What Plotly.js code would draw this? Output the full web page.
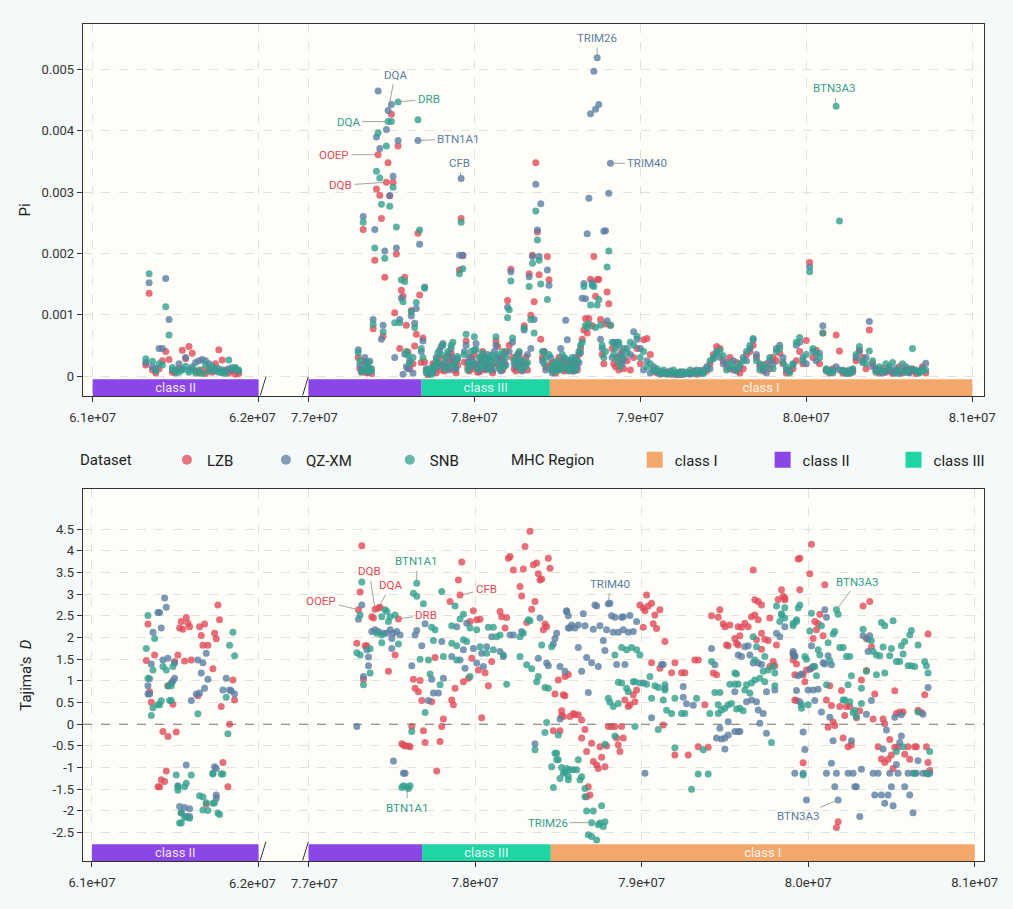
<!DOCTYPE html>
<html>
<head>
<meta charset="utf-8">
<script src="https://cdn.plot.ly/plotly-3.0.1.min.js"></script>
<style>
  html, body { margin: 0; padding: 0; background: #f5f9f9; }
  #chart { width: 1013px; height: 909px; }
</style>
</head>
<body>
<div id="chart"></div>
<script>
// ---- data -------------------------------------------------------------
var datasets = ['LZB', 'QZ-XM', 'SNB'];

// nucleotide diversity windows (Mb)
var piPos = [
  61.32,61.34,61.36,61.38,61.40,61.42,61.44,61.46,61.48,61.50,
  61.52,61.54,61.56,61.58,61.60,61.62,61.64,61.66,61.68,61.70,
  61.72,61.74,61.76,61.78,61.80,61.82,61.84,61.86,61.88,
  77.30,77.31,77.32,77.33,77.34,77.35,77.36,77.37,77.38,77.39,
  77.40,77.41,77.42,77.43,77.44,77.45,77.46,77.47,77.48,77.49,
  77.50,77.51,77.52,77.53,77.54,77.55,77.56,77.57,77.58,77.59,
  77.60,77.61,77.62,77.63,77.64,77.65,77.66,77.67,77.68,77.69,
  77.70,77.71,77.72,77.73,77.74,77.75,77.76,77.77,77.78,77.79,
  77.80,77.81,77.82,77.83,77.84,77.85,77.86,77.87,77.88,77.89,
  77.90,77.91,77.92,77.93,77.94,77.95,77.96,77.97,77.98,77.99,
  78.00,78.01,78.02,78.03,78.04,78.05,78.06,78.07,78.08,78.09,
  78.10,78.11,78.12,78.13,78.14,78.15,78.16,78.17,78.18,78.19,
  78.20,78.21,78.22,78.23,78.24,78.25,78.26,78.27,78.28,78.29,
  78.30,78.31,78.32,78.33,78.34,78.35,78.36,78.37,78.38,78.39,
  78.40,78.41,78.42,78.43,78.44,78.45,78.46,78.47,78.48,78.49,
  78.50,78.51,78.52,78.53,78.54,78.55,78.56,78.57,78.58,78.59,
  78.60,78.61,78.62,78.63,78.64,78.65,78.66,78.67,78.68,78.69,
  78.70,78.71,78.72,78.73,78.74,78.75,78.76,78.77,78.78,78.79,
  78.80,78.81,78.82,78.83,78.84,78.85,78.86,78.87,78.88,78.89,
  78.90,
  78.92,78.94,78.96,78.98,79.00,79.02,79.04,79.06,79.08,79.10,
  79.12,79.14,79.16,79.18,79.20,79.22,79.24,79.26,79.28,79.30,
  79.32,79.34,79.36,79.38,79.40,79.42,79.44,79.46,79.48,79.50,
  79.52,79.54,79.56,79.58,79.60,79.62,79.64,79.66,79.68,79.70,
  79.72,79.74,79.76,79.78,79.80,79.82,79.84,79.86,79.88,79.90,
  79.92,79.94,79.96,79.98,80.00,80.02,80.04,80.06,80.08,80.10,
  80.12,80.14,80.16,80.18,80.20,80.22,80.24,80.26,80.28,80.30,
  80.32,80.34,80.36,80.38,80.40,80.42,80.44,80.46,80.48,80.50,
  80.52,80.54,80.56,80.58,80.60,80.62,80.64,80.66,80.68,80.70,
  80.72
];

var piLZB = [
  .00018,.00135,.00010,.00005,.00012,.00025,.00040,.00027,.00006,.00008,
  .00012,.00042,.00028,.00048,.00037,.00008,.00005,.00010,.00004,.00012,
  .00006,.00020,.00043,.00026,.00010,.00005,.00008,.00003,.00004,
  .00030,.00012,.00006,.00239,.00024,.00005,.00012,.00010,.00004,.00077,
  .00189,.00305,.00361,.00295,.00257,.00065,.00161,.00316,.00348,.00294,
  .00427,.00316,.00103,.00199,.00375,.00045,.00140,.00130,.00161,.00083,
  .00039,.00012,.00107,.00020,.00049,.00068,.00233,.00132,.00022,.00062,
  .00023,.00008,.00002,.00006,.00010,.00020,.00012,.00005,.00022,.00030,
  .00010,.00018,.00008,.00030,.00012,.00022,.00037,.00026,.00010,.00005,
  .00018,.00173,.00257,.00196,.00023,.00057,.00015,.00008,.00030,.00012,
  .00035,.00020,.00006,.00007,.00025,.00040,.00010,.00022,.00015,.00030,
  .00012,.00005,.00020,.00057,.00048,.00015,.00030,.00010,.00022,.00040,
  .00123,.00050,.00174,.00030,.00012,.00008,.00020,.00037,.00010,.00018,
  .00082,.00030,.00010,.00167,.00099,.00197,.00121,.00348,.00235,.00165,
  .00060,.00030,.00040,.00015,.00195,.00157,.00020,.00010,.00022,.00005,
  .00018,.00030,.00012,.00025,.00008,.00020,.00010,.00015,.00025,.00008,
  .00012,.00020,.00010,.00035,.00045,.00060,.00075,.00094,.00070,.00094,
  .00158,.00082,.00195,.00130,.00157,.00158,.00092,.00035,.00020,.00085,
  .00137,.00118,.00083,.00045,.00020,.00015,.00030,.00010,.00022,.00040,
  .00012,
  .00025,.00010,.00030,.00045,.00020,.00059,.00061,.00035,.00010,.00005,
  .00008,.00004,.00006,.00003,.00005,.00002,.00006,.00003,.00005,.00004,
  .00008,.00003,.00006,.00010,.00008,.00020,.00035,.00048,.00045,.00025,
  .00015,.00030,.00010,.00022,.00005,.00012,.00035,.00040,.00050,.00030,
  .00015,.00008,.00020,.00012,.00030,.00025,.00037,.00020,.00005,.00010,
  .00012,.00025,.00040,.00020,.00058,.00185,.00030,.00042,.00020,.00070,
  .00010,.00005,.00012,.00067,.00041,.00005,.00008,.00004,.00010,.00025,
  .00042,.00030,.00012,.00075,.00020,.00008,.00005,.00012,.00006,.00010,
  .00004,.00008,.00015,.00005,.00010,.00006,.00012,.00004,.00008,.00015,
  .00005
];

var piQZ = [
  .00022,.00152,.00015,.00012,.00045,.00045,.00159,.00092,.00010,.00005,
  .00020,.00012,.00030,.00010,.00015,.00022,.00025,.00027,.00025,.00020,
  .00010,.00008,.00012,.00005,.00008,.00012,.00010,.00014,.00008,
  .00043,.00018,.00010,.00260,.00030,.00020,.00006,.00024,.00012,.00092,
  .00239,.00390,.00465,.00371,.00060,.00083,.00204,.00402,.00433,.00294,
  .00443,.00326,.00030,.00209,.00384,.00092,.00127,.00003,.00036,.00015,
  .00012,.00025,.00098,.00005,.00086,.00110,.00384,.00215,.00040,.00057,
  .00145,.00012,.00006,.00004,.00008,.00005,.00018,.00030,.00015,.00042,
  .00048,.00053,.00022,.00015,.00035,.00010,.00045,.00030,.00020,.00012,
  .00028,.00197,.00322,.00197,.00040,.00050,.00022,.00030,.00015,.00025,
  .00043,.00053,.00018,.00010,.00032,.00028,.00020,.00012,.00035,.00018,
  .00026,.00010,.00040,.00050,.00030,.00022,.00008,.00025,.00035,.00018,
  .00112,.00040,.00170,.00055,.00020,.00015,.00035,.00029,.00022,.00008,
  .00075,.00020,.00035,.00162,.00045,.00195,.00092,.00313,.00238,.00195,
  .00281,.00025,.00040,.00010,.00173,.00148,.00030,.00005,.00012,.00020,
  .00010,.00015,.00045,.00018,.00030,.00091,.00059,.00025,.00012,.00020,
  .00008,.00030,.00015,.00022,.00038,.00127,.00151,.00126,.00232,.00290,
  .00428,.00152,.00497,.00435,.00519,.00443,.00060,.00045,.00236,.00237,
  .00090,.00298,.00347,.00030,.00055,.00052,.00055,.00050,.00035,.00020,
  .00028,
  .00045,.00035,.00072,.00060,.00045,.00010,.00025,.00005,.00015,.00008,
  .00003,.00006,.00004,.00008,.00003,.00005,.00002,.00007,.00004,.00003,
  .00005,.00010,.00004,.00006,.00015,.00012,.00028,.00040,.00030,.00020,
  .00022,.00012,.00025,.00008,.00015,.00030,.00025,.00045,.00059,.00035,
  .00020,.00012,.00005,.00025,.00020,.00045,.00050,.00030,.00010,.00008,
  .00020,.00050,.00055,.00030,.00020,.00178,.00040,.00025,.00037,.00082,
  .00008,.00010,.00005,.00015,.00010,.00008,.00004,.00010,.00006,.00030,
  .00040,.00022,.00030,.00089,.00015,.00012,.00010,.00005,.00008,.00015,
  .00006,.00012,.00004,.00008,.00015,.00005,.00010,.00008,.00006,.00012,
  .00021
];

var piSNB = [
  .00028,.00167,.00024,.00008,.00020,.00018,.00113,.00067,.00014,.00010,
  .00006,.00010,.00016,.00006,.00012,.00005,.00010,.00004,.00018,.00008,
  .00016,.00012,.00006,.00010,.00004,.00026,.00014,.00012,.00010,
  .00038,.00025,.00007,.00251,.00014,.00010,.00022,.00012,.00008,.00084,
  .00209,.00334,.00397,.00323,.00280,.00072,.00192,.00375,.00415,.00277,
  .00415,.00308,.00087,.00243,.00447,.00087,.00157,.00121,.00154,.00040,
  .00034,.00021,.00105,.00030,.00079,.00120,.00418,.00238,.00045,.00030,
  .00143,.00005,.00010,.00012,.00003,.00008,.00015,.00025,.00038,.00020,
  .00035,.00050,.00012,.00028,.00040,.00018,.00050,.00055,.00015,.00025,
  .00032,.00167,.00251,.00175,.00035,.00068,.00010,.00018,.00040,.00022,
  .00064,.00043,.00012,.00030,.00020,.00037,.00015,.00030,.00025,.00010,
  .00034,.00018,.00028,.00064,.00035,.00012,.00020,.00040,.00015,.00030,
  .00095,.00108,.00155,.00062,.00025,.00030,.00018,.00040,.00012,.00025,
  .00078,.00015,.00022,.00146,.00092,.00184,.00070,.00269,.00222,.00189,
  .00150,.00040,.00020,.00030,.00125,.00035,.00012,.00018,.00008,.00015,
  .00025,.00010,.00020,.00035,.00012,.00028,.00015,.00008,.00020,.00030,
  .00015,.00010,.00025,.00040,.00050,.00055,.00146,.00083,.00079,.00085,
  .00116,.00148,.00146,.00079,.00116,.00125,.00083,.00050,.00030,.00040,
  .00178,.00204,.00083,.00055,.00035,.00045,.00025,.00055,.00015,.00030,
  .00045,
  .00038,.00055,.00050,.00065,.00030,.00040,.00015,.00020,.00008,.00012,
  .00005,.00010,.00003,.00005,.00010,.00004,.00007,.00003,.00006,.00010,
  .00004,.00006,.00009,.00004,.00012,.00025,.00030,.00037,.00042,.00033,
  .00010,.00020,.00015,.00012,.00020,.00025,.00040,.00050,.00061,.00025,
  .00010,.00018,.00015,.00030,.00012,.00040,.00045,.00022,.00015,.00005,
  .00018,.00055,.00063,.00025,.00035,.00170,.00045,.00037,.00030,.00070,
  .00012,.00006,.00008,.00440,.00253,.00010,.00006,.00005,.00012,.00035,
  .00048,.00025,.00020,.00041,.00025,.00006,.00015,.00008,.00020,.00012,
  .00022,.00005,.00010,.00020,.00006,.00012,.00045,.00010,.00005,.00008,
  .00010
];

// Tajima's D windows (Mb) and values
var tdPosLZB = [
  61.326,61.336,61.346,61.356,61.376,61.396,61.406,61.416,61.426,61.436,
  61.446,61.456,61.456,61.486,61.496,61.506,61.516,61.526,61.536,61.546,
  61.556,61.566,61.576,61.586,61.596,61.636,61.646,61.656,61.666,61.676,
  61.686,61.696,61.726,61.736,61.746,61.756,61.766,61.776,61.786,61.816,
  61.826,61.846,61.856,
  77.29,77.30,77.31,77.32,77.33,77.34,77.35,77.38,77.39,77.40,
  77.42,77.43,77.48,77.52,77.54,77.56,77.57,77.58,77.60,77.61,
  77.62,77.63,77.64,77.66,77.67,77.68,77.69,77.70,77.74,77.76,
  77.77,77.79,77.80,77.81,77.85,77.86,77.87,77.88,77.90,77.91,
  77.92,77.93,77.96,77.97,77.98,77.99,78.01,78.02,78.03,78.04,
  78.06,78.08,78.10,78.15,78.16,78.18,78.19,78.20,78.21,78.23,
  78.27,78.28,78.29,78.30,78.31,78.33,78.34,78.35,78.36,78.37,
  78.38,78.39,78.40,78.41,78.42,78.43,78.44,78.45,78.47,78.48,
  78.50,78.51,78.52,78.53,78.54,78.52,78.53,78.54,78.56,78.57,
  78.59,78.60,78.62,78.64,78.64,78.66,78.67,78.67,78.68,78.69,
  78.70,78.71,78.73,78.74,78.75,78.76,78.78,78.79,78.80,78.82,
  78.84,78.85,78.86,78.87,78.88,78.89,78.90,78.92,78.93,78.95,
  78.96,78.97,78.99,79.01,79.01,79.02,79.03,79.04,79.06,79.06,
  79.07,79.08,79.09,79.11,79.11,79.13,79.14,79.18,79.20,79.20,
  79.24,79.26,79.28,79.32,79.34,79.34,79.38,79.40,79.42,79.43,
  79.45,79.46,79.47,79.49,79.50,79.51,79.52,79.53,79.56,79.57,
  79.58,79.58,79.59,79.60,79.62,79.64,79.66,79.67,79.68,79.68,
  79.69,79.70,79.70,79.72,79.72,79.72,79.74,79.76,79.77,79.77,
  79.79,79.80,79.81,79.82,79.84,79.85,79.86,79.86,79.91,79.91,
  79.92,79.92,79.93,79.93,79.94,79.95,79.95,79.97,79.97,79.98,
  79.99,80.01,80.02,80.02,80.03,80.04,80.05,80.06,80.07,80.09,
  80.10,80.11,80.12,80.13,80.14,80.15,80.16,80.17,80.18,80.19,
  80.20,80.21,80.22,80.23,80.24,80.25,80.26,80.29,80.31,80.32,
  80.33,80.35,80.35,80.37,80.38,80.39,80.40,80.42,80.44,80.45,
  80.46,80.46,80.48,80.49,80.50,80.51,80.52,80.52,80.53,80.54,
  80.55,80.57,80.58,80.60,80.61,80.64,80.65,80.66,80.68,80.70,
  80.71,80.72,80.72,80.73
];
var tdLZB = [
  1.47,2.31,0.75,0.51,1.60,-1.44,-1.44,-1.28,-0.17,-1.32,
  -1.08,0.89,-0.28,0.46,1.45,-0.18,1.60,2.22,2.37,2.19,
  1.46,2.46,2.33,2.25,1.48,0.66,2.25,2.05,1.82,2.31,
  -1.84,1.82,1.28,2.10,1.97,2.75,2.41,0.41,-0.88,-1.44,
  0.00,1.02,0.56,
  1.87,2.64,3.05,4.12,1.04,1.81,1.81,2.48,2.45,2.65,
  2.68,2.70,1.22,1.60,2.43,-0.45,-0.48,-0.50,-0.50,-0.52,
  -0.05,1.04,0.83,0.75,1.01,0.55,-0.15,-0.42,0.52,1.54,
  -1.08,-0.40,-0.05,0.12,2.83,0.56,0.45,0.83,3.33,2.98,
  3.74,0.98,1.06,2.37,1.52,2.62,2.41,1.25,2.42,0.15,
  1.19,0.89,1.45,2.60,2.48,2.22,2.46,3.83,3.87,3.56,
  3.18,2.96,3.58,4.10,2.35,4.45,2.65,3.68,2.83,3.72,
  3.47,3.33,3.35,2.18,2.31,2.25,3.83,3.60,-0.15,0.70,
  1.02,-0.15,0.31,0.18,0.66,0.20,0.68,1.10,1.15,0.18,
  0.25,0.22,0.22,0.10,-0.32,-0.12,-0.63,-1.67,-1.44,-1.63,
  -0.44,-0.86,-0.94,-1.02,-0.52,-0.76,-0.98,-0.50,-0.05,-0.05,
  -0.05,-0.32,-0.48,-0.63,-0.05,-0.32,0.56,0.41,0.45,0.68,
  0.52,0.79,2.75,2.68,2.24,2.62,2.98,2.73,2.79,1.42,
  2.32,2.52,2.21,2.64,1.29,-0.02,1.91,1.19,1.42,-0.71,
  1.19,1.19,-0.71,1.48,1.48,-0.52,0.45,-0.53,2.50,1.18,
  1.14,2.47,2.64,2.32,2.25,1.83,1.81,2.29,1.98,1.87,
  2.25,1.83,2.04,2.24,2.33,2.25,2.48,3.56,2.52,2.87,
  1.95,2.41,2.83,2.10,1.73,2.75,1.96,1.93,2.45,1.33,
  1.45,1.35,1.83,2.88,3.10,2.95,2.87,2.91,1.48,1.60,
  1.14,0.56,0.55,1.39,3.81,3.10,3.83,1.14,-0.89,0.98,
  1.25,3.47,4.15,1.29,1.98,2.37,2.18,2.32,2.54,2.04,
  3.22,0.56,-0.07,0.89,0.43,0.05,-0.03,-2.38,-2.25,0.41,
  0.78,-0.32,0.20,0.41,-0.52,0.41,-0.48,0.15,0.31,1.02,
  2.73,1.98,1.24,2.83,1.79,0.12,0.70,-0.52,-0.80,0.12,
  -0.88,0.01,-0.81,-0.35,-0.71,-1.02,0.77,-0.53,0.25,-0.52,
  0.28,0.28,-0.69,-0.52,-0.81,-0.52,-0.52,0.32,0.27,0.68,
  -0.52,2.08,-0.88,-1.07
];

var tdPosQZ = [
  61.336,61.336,61.346,61.346,61.356,61.366,61.396,61.406,61.416,61.426,
  61.436,61.446,61.456,61.476,61.486,61.496,61.496,61.516,61.526,61.536,
  61.556,61.566,61.566,61.586,61.586,61.596,61.626,61.636,61.646,61.656,
  61.666,61.676,61.686,61.696,61.726,61.736,61.746,61.746,61.746,61.786,
  61.806,61.826,61.836,61.856,
  77.29,77.30,77.32,77.33,77.35,77.36,77.36,77.38,77.40,77.42,
  77.45,77.47,77.49,77.50,77.50,77.51,77.51,77.53,77.55,77.57,
  77.58,77.62,77.64,77.65,77.68,77.70,77.72,77.74,77.75,77.78,
  77.80,77.81,77.86,77.89,77.91,77.93,77.94,77.95,77.99,78.01,
  78.04,78.05,78.07,78.10,78.15,78.17,78.21,78.23,78.28,78.36,
  78.38,78.39,78.43,78.44,78.47,78.48,78.49,78.51,78.51,78.54,
  78.55,78.55,78.56,78.56,78.57,78.58,78.60,78.62,78.62,78.64,
  78.65,78.66,78.67,78.68,78.70,78.71,78.72,78.73,78.74,78.75,
  78.77,78.78,78.79,78.80,78.81,78.82,78.83,78.84,78.85,78.86,
  78.88,78.89,78.89,78.90,78.92,78.93,78.95,78.97,79.01,79.02,
  79.06,79.12,79.13,79.14,79.25,79.25,79.27,79.31,79.42,79.44,
  79.45,79.47,79.48,79.50,79.50,79.52,79.52,79.56,79.56,79.58,
  79.58,79.59,79.60,79.62,79.63,79.64,79.65,79.66,79.67,79.69,
  79.70,79.70,79.71,79.72,79.73,79.75,79.75,79.80,79.81,79.83,
  79.86,79.91,79.91,79.92,79.92,79.92,79.93,79.94,79.95,79.96,
  79.97,79.97,79.98,79.99,80.00,80.01,80.02,80.03,80.03,80.04,
  80.06,80.08,80.09,80.10,80.10,80.11,80.11,80.12,80.13,80.14,
  80.14,80.15,80.16,80.17,80.18,80.24,80.26,80.27,80.28,80.29,
  80.31,80.32,80.33,80.35,80.36,80.36,80.37,80.38,80.39,80.40,
  80.42,80.44,80.45,80.46,80.47,80.48,80.49,80.50,80.51,80.52,
  80.53,80.54,80.55,80.56,80.56,80.58,80.60,80.61,80.63,80.63,
  80.65,80.66,80.69,80.69,80.71,80.72,80.73
];
var tdQZ = [
  0.89,0.70,1.05,0.70,1.39,2.12,2.58,2.58,2.22,1.48,
  2.91,2.70,1.52,0.95,1.00,1.06,1.41,-1.42,-1.90,-2.05,
  -1.92,-0.94,-2.13,-1.95,-2.13,0.55,0.70,1.48,0.72,1.18,
  1.42,0.83,1.64,1.04,-1.13,-0.98,-1.02,-1.63,-1.71,0.79,
  1.06,0.79,0.77,0.70,
  -0.05,2.42,2.75,1.10,1.72,1.55,1.35,2.14,2.18,2.14,
  2.10,2.10,2.18,1.98,1.75,2.10,-0.85,2.14,2.06,-1.13,
  -1.13,1.35,2.06,2.16,1.81,2.32,0.55,1.04,0.72,0.72,
  1.91,1.06,1.56,2.25,1.48,1.72,1.29,2.33,1.75,1.41,
  1.64,1.33,1.79,2.02,1.68,1.56,2.06,2.06,2.14,-0.45,
  1.52,2.45,1.41,1.35,1.85,1.98,2.10,0.12,1.33,1.22,
  2.60,2.62,2.22,2.50,2.22,2.29,2.22,2.29,1.77,1.22,
  2.55,2.27,1.54,0.73,1.42,2.19,2.75,2.73,1.33,2.27,
  1.93,1.70,2.18,2.78,2.79,2.50,2.12,2.47,1.38,2.12,
  2.47,2.48,2.18,1.38,2.12,2.51,2.14,2.37,0.95,-1.13,
  0.15,1.38,1.38,0.83,0.87,0.62,0.47,0.44,1.75,1.37,
  -0.32,-0.09,-0.34,-0.32,-0.57,0.06,-0.25,-0.17,0.75,-0.17,
  1.60,-0.17,1.56,1.79,0.52,1.81,1.60,0.56,1.41,0.52,
  1.41,0.33,0.02,1.38,0.25,-0.21,0.75,0.79,2.10,2.02,
  2.25,1.64,1.68,1.56,1.58,-1.13,0.78,1.12,0.52,1.16,
  -1.13,-0.18,-0.58,-1.75,0.79,1.27,1.81,1.33,0.79,0.55,
  0.81,0.28,1.42,2.64,1.39,2.47,-1.13,1.58,0.16,1.37,
  -0.90,-0.38,-1.44,-1.13,-1.75,-1.13,-0.38,-1.13,-1.44,-1.44,
  -2.13,-1.04,2.04,0.23,1.96,1.68,2.04,0.55,-1.13,-1.63,
  -1.13,-1.63,-0.57,-1.82,-0.13,-1.63,-1.13,-1.44,-1.88,0.16,
  -0.93,-1.13,-0.42,0.22,-0.27,-1.44,-1.13,-1.63,-1.13,-2.04,
  -1.13,-0.84,0.23,-1.13,-1.13,0.85,-1.13
];

var tdPosSNB = [
  61.326,61.336,61.336,61.356,61.366,61.366,61.376,61.396,61.406,61.416,
  61.426,61.446,61.456,61.466,61.476,61.476,61.486,61.506,61.516,61.516,
  61.526,61.536,61.536,61.556,61.556,61.566,61.586,61.596,61.636,61.646,
  61.666,61.666,61.686,61.696,61.726,61.726,61.736,61.756,61.766,61.776,
  61.786,61.806,61.816,61.826,61.846,61.856,
  77.29,77.31,77.31,77.32,77.33,77.37,77.37,77.41,77.44,77.44,
  77.44,77.46,77.47,77.48,77.49,77.52,77.54,77.56,77.57,77.59,
  77.60,77.61,77.62,77.63,77.65,77.65,77.67,77.69,77.70,77.72,
  77.73,77.74,77.75,77.76,77.79,77.80,77.81,77.86,77.86,77.88,
  77.89,77.89,77.91,77.93,77.93,77.95,77.97,77.97,78.01,78.03,
  78.07,78.08,78.11,78.11,78.13,78.15,78.17,78.19,78.27,78.27,
  78.29,78.31,78.32,78.33,78.34,78.36,78.37,78.38,78.40,78.42,
  78.42,78.43,78.44,78.46,78.46,78.47,78.48,78.49,78.49,78.50,
  78.50,78.51,78.52,78.53,78.54,78.55,78.56,78.56,78.57,78.59,
  78.61,78.62,78.63,78.64,78.66,78.66,78.67,78.68,78.70,78.70,
  78.71,78.73,78.74,78.75,78.76,78.77,78.78,78.78,78.80,78.81,
  78.83,78.84,78.84,78.86,78.86,78.88,78.88,78.91,78.91,78.92,
  78.94,78.95,78.96,78.96,78.97,78.99,78.99,79.03,79.05,79.06,
  79.08,79.10,79.10,79.13,79.14,79.14,79.15,79.18,79.20,79.20,
  79.24,79.26,79.30,79.33,79.34,79.37,79.40,79.41,79.42,79.44,
  79.46,79.46,79.47,79.48,79.50,79.52,79.53,79.54,79.56,79.56,
  79.57,79.57,79.58,79.59,79.61,79.62,79.63,79.65,79.66,79.67,
  79.68,79.68,79.69,79.71,79.73,79.74,79.74,79.76,79.78,79.79,
  79.80,79.80,79.81,79.83,79.84,79.84,79.86,79.86,79.91,79.91,
  79.93,79.93,79.94,79.95,79.96,79.96,79.97,79.98,79.99,80.00,
  80.01,80.02,80.04,80.05,80.06,80.07,80.08,80.11,80.12,80.13,
  80.15,80.16,80.17,80.18,80.19,80.21,80.21,80.22,80.23,80.24,
  80.25,80.25,80.26,80.27,80.28,80.29,80.32,80.32,80.33,80.35,
  80.38,80.39,80.41,80.41,80.43,80.44,80.45,80.46,80.46,80.49,
  80.50,80.51,80.53,80.53,80.55,80.56,80.57,80.57,80.58,80.60,
  80.61,80.62,80.62,80.64,80.64,80.66,80.66,80.70,80.71,80.72,
  80.72,80.73
];
var tdSNB = [
  1.75,2.51,1.06,0.20,1.25,0.38,1.98,0.45,0.45,0.54,
  1.33,1.25,0.88,0.55,0.89,0.55,1.33,-1.17,-1.44,-1.52,
  -2.28,-2.04,-2.28,-1.44,-2.15,-1.36,-2.17,-1.17,0.24,-1.65,
  -1.68,-1.98,-1.81,-1.99,-1.15,-1.82,-1.81,-2.05,-2.08,-1.15,
  -1.15,0.62,-0.22,1.82,2.12,1.58,
  1.65,2.52,1.60,3.28,0.91,1.74,1.18,2.10,2.48,2.06,
  1.88,2.64,2.60,2.37,2.48,2.52,1.85,-1.46,-1.42,-1.44,
  -1.48,-1.42,-0.17,3.02,3.25,2.95,1.50,2.78,0.27,1.48,
  1.16,2.24,1.93,2.18,0.91,3.06,1.56,2.27,1.87,2.73,
  1.81,1.48,2.43,2.54,1.95,1.91,2.22,1.10,2.18,1.79,
  1.64,2.24,2.24,1.72,2.02,2.06,1.60,0.92,2.02,1.56,
  2.10,1.37,2.41,2.39,1.28,-0.59,0.98,1.10,1.83,0.85,
  -0.19,0.04,0.83,1.79,-0.98,-1.46,-0.67,-0.82,-0.67,-0.25,
  -0.82,-1.25,-1.00,-1.13,-1.10,-1.02,-1.28,-1.20,-1.05,-1.05,
  -1.05,-0.82,-1.28,-1.21,-1.48,-1.67,-2.00,-2.55,-2.27,-2.59,
  -2.00,-2.67,-2.32,-2.28,-1.88,-2.36,-2.25,-0.46,0.60,0.51,
  0.41,1.60,-0.27,0.97,0.48,1.77,0.95,1.72,0.83,0.75,
  1.77,0.98,0.98,-0.05,1.72,1.60,0.95,0.92,1.10,0.60,
  0.89,0.85,-0.12,0.56,0.91,0.79,0.32,0.25,0.60,-0.54,
  0.25,0.25,-1.50,0.60,-1.15,-0.59,-1.15,0.25,1.45,0.73,
  0.45,0.25,0.73,0.33,0.37,0.45,0.92,0.48,0.92,1.18,
  1.16,0.35,0.92,0.37,0.31,0.79,0.91,0.72,0.95,2.02,
  1.48,1.02,1.79,1.06,1.22,1.56,0.98,1.25,-0.42,1.33,
  1.18,0.89,2.73,2.37,2.52,2.55,2.45,2.69,2.33,2.27,
  2.41,2.37,2.68,2.75,0.45,0.37,-1.17,1.56,1.50,0.45,
  2.15,2.56,1.33,1.12,1.72,1.60,2.27,0.91,1.88,1.47,
  2.08,2.14,2.64,2.54,1.77,1.77,0.56,0.56,1.56,0.91,
  1.56,0.52,1.12,0.27,0.32,0.18,0.83,0.48,2.19,1.22,
  1.93,1.68,1.60,1.14,1.58,2.35,1.78,2.27,1.18,1.58,
  1.75,2.39,1.45,-0.63,1.45,1.81,1.62,-0.52,1.91,1.35,
  2.06,2.16,1.35,1.33,-1.13,1.83,0.28,1.45,1.35,1.18,
  -1.15,-0.63
];

// MHC regions (Mb)
var regionClass = ['class II', 'class II', 'class III', 'class I'];
var regionStart = [61.0, 77.0, 77.682, 78.455];
var regionEnd = [62.0, 77.682, 78.455, 81.0];
var regionText = ['class II', '', 'class III', 'class I'];
var regionLegend = ['class I', 'class II', 'class III'];

// gene labels
var piLabText = ['DQA', 'DRB', 'DQA', 'BTN1A1', 'OOEP', 'DQB', 'CFB', 'TRIM26', 'TRIM40', 'BTN3A3'];
var piLabSet = ['QZ-XM', 'SNB', 'SNB', 'QZ-XM', 'LZB', 'LZB', 'QZ-XM', 'QZ-XM', 'QZ-XM', 'SNB'];
var piLabMb = [77.48, 77.54, 77.48, 77.66, 77.42, 77.47, 77.92, 78.74, 78.82, 80.18];
var piLabVal = [.00433, .00447, .00415, .00384, .00361, .00316, .00322, .00519, .00347, .00440];

var tdLabText = ['OOEP', 'DQB', 'DQA', 'DRB', 'BTN1A1', 'CFB', 'BTN1A1', 'TRIM26', 'TRIM40', 'BTN3A3', 'BTN3A3'];
var tdLabSet = ['LZB', 'LZB', 'LZB', 'LZB', 'SNB', 'LZB', 'SNB', 'SNB', 'QZ-XM', 'SNB', 'QZ-XM'];
var tdLabMb = [77.30, 77.40, 77.42, 77.54, 77.65, 77.91, 77.59, 78.70, 78.80, 80.17, 80.18];
var tdLabVal = [2.64, 2.65, 2.68, 2.43, 3.25, 2.98, -1.44, -2.27, 2.78, 2.64, -1.75];

// ---- styling / layout ---------------------------------------------------
var FONT = 'Roboto, "Noto Sans", "DejaVu Sans", sans-serif';
var setColor = {'LZB': '#E04B59', 'QZ-XM': '#5A7EA2', 'SNB': '#33A08D'};
var classColor = {'class I': '#F3A86B', 'class II': '#8B46E8', 'class III': '#20D5A4'};

// broken x axis: 61-62 Mb, then 77-81 Mb after a short gap
var SEG1_START = 61, SEG1_END = 62, SEG2_START = 77, GAP = 0.3;
function toAxis(mb) {
  return mb <= SEG1_END ? mb - SEG1_START : mb - SEG2_START + (SEG1_END - SEG1_START) + GAP;
}
var tickMb = [61, 62, 77, 78, 79, 80, 81];
var tickText = ['6.1e+07', '6.2e+07', '7.7e+07', '7.8e+07', '7.9e+07', '8.0e+07', '8.1e+07'];
// the two labels beside the break are written as annotations, nudged apart
var breakTicks = [1, 2];
var breakShift = [-5.7, 5.7];
var tickLabels = tickText.map(function(t, i) { return breakTicks.indexOf(i) >= 0 ? '' : t; });
var piTicks = [0, .001, .002, .003, .004, .005];
var tdTicks = [-2.5, -2, -1.5, -1, -0.5, 0, 0.5, 1, 1.5, 2, 2.5, 3, 3.5, 4, 4.5];

var PI_RANGE = [-0.000326, 0.005742];
var TD_RANGE = [-3.155, 5.42];
var PI_BAR = [-0.000326, -0.000054];
var TD_BAR = [-3.155, -2.77];

var seriesPi = {'LZB': piLZB, 'QZ-XM': piQZ, 'SNB': piSNB};
var seriesTdX = {'LZB': tdPosLZB, 'QZ-XM': tdPosQZ, 'SNB': tdPosSNB};
var seriesTdY = {'LZB': tdLZB, 'QZ-XM': tdQZ, 'SNB': tdSNB};

var traces = [];

function regionBars(xa, ya, bar) {
  return {
    type: 'bar', xaxis: xa, yaxis: ya,
    x: regionStart.map(function(s, i) { return (toAxis(s) + toAxis(regionEnd[i])) / 2; }),
    width: regionStart.map(function(s, i) { return toAxis(regionEnd[i]) - toAxis(s); }),
    y: regionStart.map(function() { return bar[1] - bar[0]; }),
    base: bar[0],
    marker: {color: regionClass.map(function(c) { return classColor[c]; }), line: {width: 0}},
    text: regionText, textposition: 'inside', insidetextanchor: 'middle',
    textangle: 0, constraintext: 'none',
    textfont: {family: FONT, size: 13, color: 'rgba(255,255,255,0.88)'},
    showlegend: false, hoverinfo: 'skip'
  };
}
traces.push(regionBars('x', 'y', PI_BAR));
traces.push(regionBars('x2', 'y2', TD_BAR));

var piX = piPos.map(toAxis);
datasets.forEach(function(name) {
  traces.push({
    type: 'scatter', mode: 'markers', xaxis: 'x', yaxis: 'y',
    x: piX, y: seriesPi[name],
    marker: {color: setColor[name], size: 7, opacity: 0.8},
    showlegend: false, hoverinfo: 'skip'
  });
});
datasets.forEach(function(name) {
  traces.push({
    type: 'scatter', mode: 'markers', xaxis: 'x2', yaxis: 'y2',
    x: seriesTdX[name].map(toAxis), y: seriesTdY[name],
    marker: {color: setColor[name], size: 7, opacity: 0.8},
    showlegend: false, hoverinfo: 'skip'
  });
});

// legend entries (one legend box per item so spacing can follow the reference)
var LEG_Y = (861 - 460) / 837;
function legendAt(px) {
  return {x: (px - 20 - 83) / 901.5, xanchor: 'left', y: LEG_Y, yanchor: 'middle',
          orientation: 'h', bgcolor: 'rgba(0,0,0,0)', borderwidth: 0,
          font: {family: FONT, size: 15, color: '#222'}, itemclick: false, itemdoubleclick: false};
}
var legendIds = ['legend', 'legend2', 'legend3', 'legend4', 'legend5', 'legend6'];
var legendPx = [187, 286, 410, 655, 783, 914];
datasets.forEach(function(name, i) {
  traces.push({
    type: 'scatter', mode: 'markers', x: [null], y: [null], name: name,
    marker: {color: setColor[name], size: 10, opacity: 0.75},
    legend: legendIds[i], showlegend: true, hoverinfo: 'skip'
  });
});
regionLegend.forEach(function(name, i) {
  traces.push({
    type: 'scatter', mode: 'markers', x: [null], y: [null], name: name,
    marker: {color: classColor[name], size: 16, symbol: 'square'},
    legend: legendIds[3 + i], showlegend: true, hoverinfo: 'skip'
  });
});

var TICK_STANDOFF = 4;
function xAxis(anchor, range) {
  return {
    anchor: anchor, domain: [0, 1], range: range,
    tickmode: 'array', tickvals: tickMb.map(toAxis), ticktext: tickLabels, tickangle: 0,
    ticks: 'outside', ticklen: 5, tickwidth: 1, tickcolor: '#333', ticklabelstandoff: TICK_STANDOFF,
    showline: true, mirror: true, linecolor: '#333', linewidth: 1.3,
    showgrid: true, gridcolor: '#e2e2e2', griddash: 'dash', gridwidth: 1,
    zeroline: false, tickfont: {family: FONT, size: 13, color: '#333'}
  };
}
function yAxis(anchor, domain, range, ticks, title, standoff) {
  return {
    anchor: anchor, domain: domain, range: range,
    tickmode: 'array', tickvals: ticks, ticktext: ticks.map(String),
    ticks: 'outside', ticklen: 5, tickwidth: 1, tickcolor: '#333',
    showline: true, mirror: true, linecolor: '#333', linewidth: 1.3,
    showgrid: true, gridcolor: '#e2e2e2', griddash: 'dash', gridwidth: 1,
    zeroline: false, tickfont: {family: FONT, size: 13, color: '#333'},
    title: {text: title, font: {family: FONT, size: 15, color: '#222'}, standoff: standoff}
  };
}

var annotations = [];
var piLabDx = [7, 31, -40, 41, -44, -46, -2, 0, 37, -2];
var piLabDy = [-36, -3, 0, -2, 0, 3, -16, -20, 0, -18];
var tdLabDx = [-37, -6, 12, 28, 0, 26, 1, -44, 2, 21, -40];
var tdLabDy = [-9, -38, -23, -4, -22, -6, 21, 0, -20, -28, 16];
function addLabels(texts, sets, mbs, vals, dx, dy, xa, ya) {
  texts.forEach(function(t, i) {
    annotations.push({
      xref: xa, yref: ya, x: toAxis(mbs[i]), y: vals[i], text: t,
      showarrow: true, arrowhead: 0, arrowwidth: 0.8, arrowcolor: '#8c8c8c',
      ax: dx[i], ay: dy[i], standoff: 3, startstandoff: 1,
      font: {family: FONT, size: 11.5, color: setColor[sets[i]]}
    });
  });
}
addLabels(piLabText, piLabSet, piLabMb, piLabVal, piLabDx, piLabDy, 'x', 'y');
addLabels(tdLabText, tdLabSet, tdLabMb, tdLabVal, tdLabDx, tdLabDy, 'x2', 'y2');

// tick labels beside the axis break
[['x', 'y domain', -21], ['x2', 'y2 domain', -22]].forEach(function(p) {
  breakTicks.forEach(function(ti, k) {
    annotations.push({
      xref: p[0], yref: p[1], x: toAxis(tickMb[ti]), y: 0, yanchor: 'middle',
      xshift: breakShift[k], yshift: p[2], text: tickText[ti], showarrow: false,
      font: {family: FONT, size: 13, color: '#333'}
    });
  });
});

annotations.push({xref: 'paper', yref: 'paper', x: (77.5 - 83) / 901.5, y: LEG_Y, xanchor: 'left', yanchor: 'middle',
  text: 'Dataset', showarrow: false, font: {family: FONT, size: 15, color: '#222'}});
annotations.push({xref: 'paper', yref: 'paper', x: (509 - 83) / 901.5, y: LEG_Y, xanchor: 'left', yanchor: 'middle',
  text: 'MHC Region', showarrow: false, font: {family: FONT, size: 15, color: '#222'}});

// dashed zero reference for Tajima's D
var shapes = [{
  type: 'line', xref: 'x2 domain', yref: 'y2', x0: 0, x1: 1, y0: 0, y1: 0,
  line: {color: '#666', width: 1, dash: 'dash'}, layer: 'above', opacity: 0.85
}];
// break marks
[['x', 'y', PI_BAR], ['x2', 'y2', TD_BAR]].forEach(function(p) {
  var lo = p[2][0] + (p[2][1] - p[2][0]) * 0.03, hi = p[2][1] + (p[2][1] - p[2][0]) * 0.15;
  [[toAxis(SEG1_END) + 0.01, toAxis(SEG1_END) + 0.044], [toAxis(SEG2_START) - 0.035, toAxis(SEG2_START) - 0.001]].forEach(function(s) {
    shapes.push({type: 'line', xref: p[0], yref: p[1], x0: s[0], x1: s[1], y0: lo, y1: hi,
      line: {color: '#333', width: 1}, layer: 'above'});
  });
});

var layout = {
  width: 1013, height: 909,
  paper_bgcolor: '#f5f9f9', plot_bgcolor: '#fffdf7',
  margin: {l: 83, r: 28.5, t: 24, b: 48},
  font: {family: FONT, size: 13, color: '#333'},
  barmode: 'overlay', hovermode: false, showlegend: true,
  xaxis: xAxis('y', [-0.0584, 5.371]),
  xaxis2: xAxis('y2', [-0.054, 5.356]),
  yaxis: yAxis('x', [(861 - 396) / 837, 1], PI_RANGE, piTicks, 'Pi', 7),
  yaxis2: yAxis('x2', [0, (861 - 489.3) / 837], TD_RANGE, tdTicks, "Tajima's\u00a0 <i>D</i>", 17),
  annotations: annotations,
  shapes: shapes
};
legendIds.forEach(function(id, i) { layout[id] = legendAt(legendPx[i]); });

Plotly.newPlot('chart', traces, layout, {displayModeBar: false, staticPlot: true});
</script>
</body>
</html>
